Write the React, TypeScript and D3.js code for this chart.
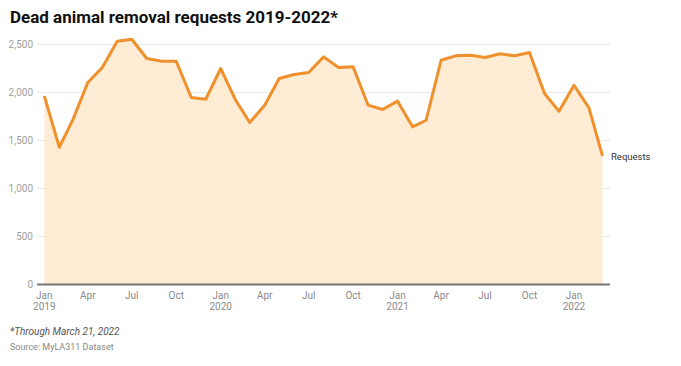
import React, { useEffect, useRef } from 'react';
import * as d3 from 'd3';

// Monthly requests, Jan 2019 – Mar 2022
const months = [
  '2019-01', '2019-02', '2019-03', '2019-04', '2019-05', '2019-06',
  '2019-07', '2019-08', '2019-09', '2019-10', '2019-11', '2019-12',
  '2020-01', '2020-02', '2020-03', '2020-04', '2020-05', '2020-06',
  '2020-07', '2020-08', '2020-09', '2020-10', '2020-11', '2020-12',
  '2021-01', '2021-02', '2021-03', '2021-04', '2021-05', '2021-06',
  '2021-07', '2021-08', '2021-09', '2021-10', '2021-11', '2021-12',
  '2022-01', '2022-02', '2022-03',
];
const requests = [
  1965, 1430, 1715, 2104, 2260, 2534, 2555, 2354, 2326, 2326, 1948, 1930,
  2250, 1919, 1687, 1868, 2146, 2187, 2208, 2371, 2260, 2267, 1868, 1823,
  1910, 1642, 1711, 2336, 2382, 2389, 2365, 2403, 2382, 2417, 1990, 1805,
  2076, 1840, 1340,
];
const yTicks = [0, 500, 1000, 1500, 2000, 2500];
const seriesName = 'Requests';

const W = 681;
const H = 366;

export default function App() {
  const ref = useRef<SVGSVGElement>(null);

  useEffect(() => {
    if (!ref.current) return;
    const svg = d3.select(ref.current);
    svg.selectAll('*').remove();

    const parse = d3.timeParse('%Y-%m');
    const data = months.map((m, i) => ({ date: parse(m) as Date, value: requests[i] }));

    const left = 37, right = 610, top = 44.5, bottom = 284.5;
    const plotStart = 44.3, plotEnd = 602.5;

    const x = d3.scaleTime()
      .domain([data[0].date, data[data.length - 1].date])
      .range([plotStart, plotEnd]);
    const y = d3.scaleLinear().domain([0, 2500]).range([bottom, top]);

    // title
    svg.append('text')
      .attr('x', 10).attr('y', 23)
      .attr('font-family', 'Roboto, sans-serif')
      .attr('font-weight', 700)
      .attr('font-size', 17)
      .attr('fill', '#111')
      .text('Dead animal removal requests 2019-2022*');

    // gridlines + y labels
    const yAxis = svg.append('g');
    yTicks.forEach(t => {
      if (t > 0) {
        yAxis.append('line')
          .attr('x1', left).attr('x2', right)
          .attr('y1', y(t)).attr('y2', y(t))
          .attr('stroke', '#e8e8e8').attr('stroke-width', 1);
      }
      yAxis.append('text')
        .attr('x', 33).attr('y', y(t))
        .attr('dy', '0.35em')
        .attr('text-anchor', 'end')
        .attr('font-family', 'Roboto, sans-serif')
        .attr('font-size', 10)
        .attr('fill', '#a0a0a0')
        .text(d3.format(',')(t));
    });

    // area + line
    const area = d3.area<{ date: Date; value: number }>()
      .x(d => x(d.date)).y0(y(0)).y1(d => y(d.value));
    const line = d3.line<{ date: Date; value: number }>()
      .x(d => x(d.date)).y(d => y(d.value));

    svg.append('path').datum(data)
      .attr('d', area)
      .attr('fill', '#feecd5');

    svg.append('path').datum(data)
      .attr('d', line)
      .attr('fill', 'none')
      .attr('stroke', '#f0902c')
      .attr('stroke-width', 3)
      .attr('stroke-linejoin', 'round');

    // baseline
    svg.append('line')
      .attr('x1', left).attr('x2', right)
      .attr('y1', y(0)).attr('y2', y(0))
      .attr('stroke', '#777').attr('stroke-width', 2);

    // x labels
    const ticks = data.filter(d => d.date.getMonth() % 3 === 0);
    const xg = svg.append('g')
      .attr('font-family', 'Roboto, sans-serif')
      .attr('font-size', 10)
      .attr('fill', '#8a8a8a')
      .attr('text-anchor', 'middle');
    ticks.forEach(d => {
      xg.append('text')
        .attr('x', x(d.date)).attr('y', 299)
        .text(d3.timeFormat('%b')(d.date));
      if (d.date.getMonth() === 0) {
        xg.append('text')
          .attr('x', x(d.date)).attr('y', 310)
          .text(d3.timeFormat('%Y')(d.date));
      }
    });

    // series label
    const last = data[data.length - 1];
    svg.append('text')
      .attr('x', 611).attr('y', y(last.value) + 1)
      .attr('dy', '0.35em')
      .attr('font-family', 'Roboto, sans-serif')
      .attr('font-size', 9.5)
      .attr('fill', '#333')
      .text(seriesName);

    // notes
    svg.append('text')
      .attr('x', 10).attr('y', 335)
      .attr('font-family', 'Roboto, sans-serif')
      .attr('font-style', 'italic')
      .attr('font-size', 10)
      .attr('fill', '#555')
      .text('*Through March 21, 2022');
    svg.append('text')
      .attr('x', 10).attr('y', 350)
      .attr('font-family', 'Roboto, sans-serif')
      .attr('font-size', 9)
      .attr('fill', '#888')
      .text('Source: MyLA311 Dataset');
  }, []);

  return (
    <svg
      ref={ref}
      width={W}
      height={H}
      style={{ position: 'absolute', left: 0, top: 0, background: '#fff' }}
    />
  );
}
